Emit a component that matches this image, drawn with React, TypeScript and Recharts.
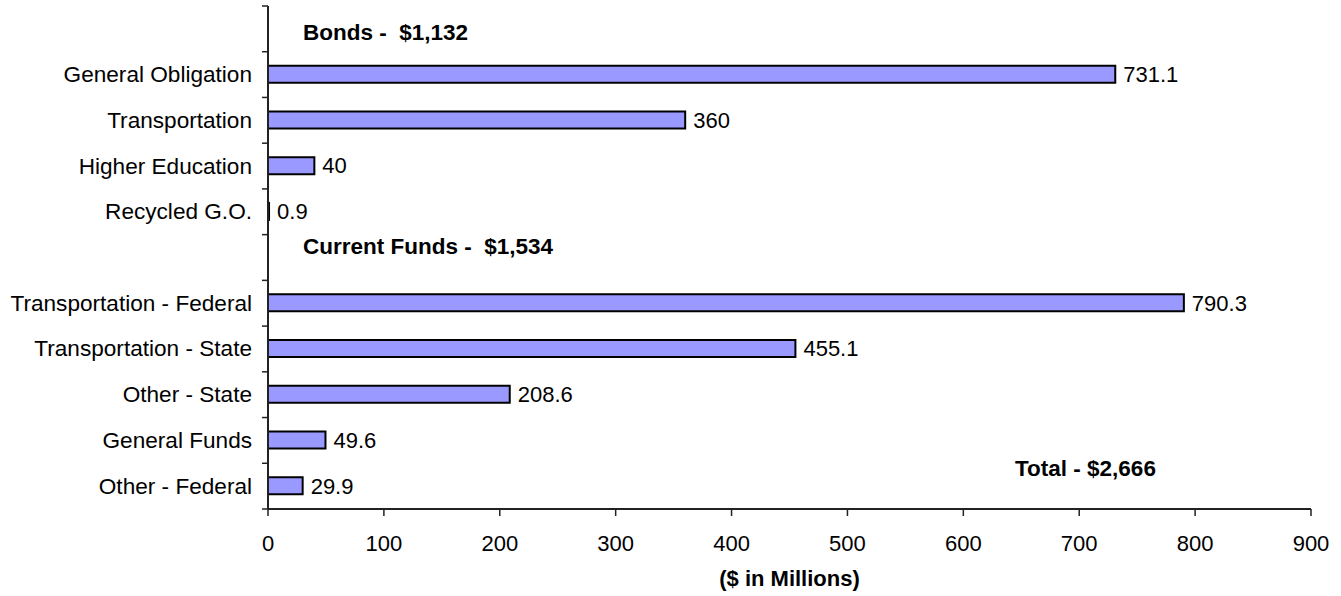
import { Bar, BarChart, LabelList, XAxis, YAxis } from 'recharts';

const categories = [
  'Bonds',
  'General Obligation',
  'Transportation',
  'Higher Education',
  'Recycled G.O.',
  'Current Funds',
  'Transportation - Federal',
  'Transportation - State',
  'Other - State',
  'General Funds',
  'Other - Federal',
];
const amounts = [null, 731.1, 360, 40, 0.9, null, 790.3, 455.1, 208.6, 49.6, 29.9];
const groupHeaders: Record<string, string> = {
  Bonds: 'Bonds -  $1,132',
  'Current Funds': 'Current Funds -  $1,534',
};
const xTicks = [0, 100, 200, 300, 400, 500, 600, 700, 800, 900];
const totalLabel = 'Total - $2,666';
const axisTitle = '($ in Millions)';

const data = categories.map((name, i) => ({ name, amount: amounts[i] }));

const FONT = '"Liberation Sans", Arial, Helvetica, sans-serif';
const headerShift: Record<string, number> = { Bonds: 4, 'Current Funds': -11 };

function CategoryTick(props: any) {
  const { x, y, payload, index, visibleTicksCount } = props;
  const half = payload.offset ?? 22.86;
  const axisX = x + 16;
  const header = groupHeaders[payload.value];
  return (
    <g>
      <line x1={axisX - 6} x2={axisX} y1={y - half} y2={y - half} stroke="#222" strokeWidth={1.5} />
      {index === visibleTicksCount - 1 && (
        <line x1={axisX - 6} x2={axisX} y1={y + half} y2={y + half} stroke="#222" strokeWidth={1.5} />
      )}
      {header ? (
        <text
          x={axisX + 35}
          y={y + (headerShift[payload.value] ?? 0)}
          dominantBaseline="central"
          fontSize={22.5}
          fontWeight={700}
          fill="#000"
          style={{ whiteSpace: 'pre' }}
        >
          {header}
        </text>
      ) : (
        <text x={x} y={y} textAnchor="end" dominantBaseline="central" fontSize={22.6} fill="#000">
          {payload.value}
        </text>
      )}
    </g>
  );
}

export default function App() {
  return (
    <div style={{ position: 'absolute', left: 0, top: 0, background: '#fff', fontFamily: FONT }}>
      <BarChart
        width={1341}
        height={596}
        data={data}
        layout="vertical"
        margin={{ top: 6, right: 30, bottom: 7, left: 0 }}
        barSize={17}
      >
        <XAxis
          type="number"
          domain={[0, 900]}
          ticks={xTicks}
          interval={0}
          height={80}
          tickSize={7}
          tickMargin={19}
          axisLine={{ stroke: '#222', strokeWidth: 2 }}
          tickLine={{ stroke: '#222', strokeWidth: 1.5 }}
          tick={{ fill: '#000', fontSize: 22, fontFamily: FONT }}
          label={{
            value: axisTitle,
            position: 'insideBottom',
            offset: 3,
            style: { fontWeight: 700, fontSize: 22, fill: '#000', fontFamily: FONT },
          }}
        />
        <XAxis
          xAxisId="frame"
          orientation="top"
          type="number"
          domain={[0, 900]}
          height={0}
          tick={false}
          tickLine={false}
          axisLine={{ stroke: '#888', strokeWidth: 2 }}
        />
        <YAxis
          type="category"
          dataKey="name"
          width={268}
          interval={0}
          tickSize={6}
          tickMargin={10}
          tickLine={false}
          axisLine={{ stroke: '#222', strokeWidth: 2 }}
          tick={<CategoryTick />}
        />
        <YAxis
          yAxisId="frame"
          orientation="right"
          type="category"
          dataKey="name"
          width={0}
          tick={false}
          tickLine={false}
          axisLine={{ stroke: '#888', strokeWidth: 2 }}
        />
        <Bar dataKey="amount" fill="#9999FF" stroke="#000" strokeWidth={2} isAnimationActive={false}>
          <LabelList
            dataKey="amount"
            position="right"
            offset={8}
            fill="#000"
            fontSize={22}
            fontFamily={FONT}
          />
        </Bar>
        <text
          x={1015}
          y={468}
          dominantBaseline="central"
          fontSize={22.5}
          fontWeight={700}
          fill="#000"
          fontFamily={FONT}
        >
          {totalLabel}
        </text>
      </BarChart>
    </div>
  );
}
